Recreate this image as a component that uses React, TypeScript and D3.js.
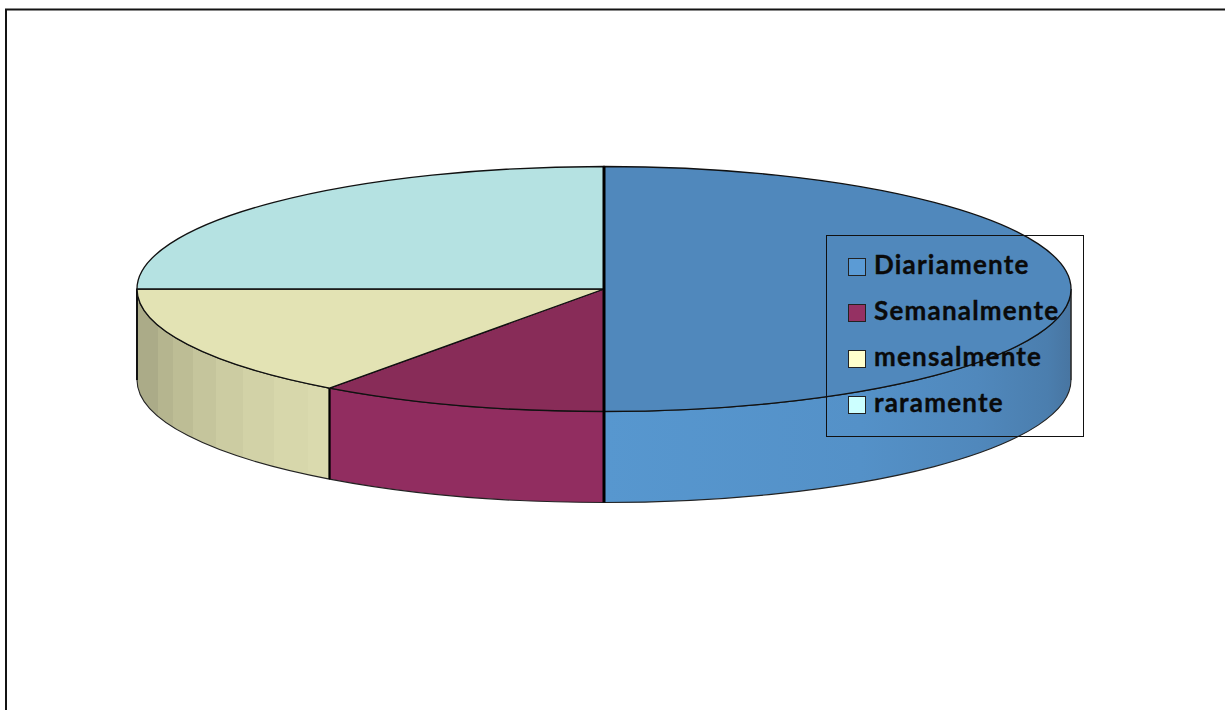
import React from "react";
import * as d3 from "d3";

const categories = ["Diariamente", "Semanalmente", "mensalmente", "raramente"];
const shares = [50, 10, 15, 25];
const topColors = ["#5088bc", "#882c58", "#e3e3b4", "#b5e2e2"];
const swatchColors = ["#5b9bd5", "#953163", "#ffffcc", "#ccffff"];

// Shading of the rim, left to right: [start x offset from the centre as a share of the radius, colour]
const wallBands: [number, string][] = [
  [-1, "#abab88"],
  [-0.955, "#b5b58f"],
  [-0.923, "#bdbd95"],
  [-0.88, "#c5c59c"],
  [-0.83, "#cccca2"],
  [-0.773, "#d2d2a7"],
  [-0.707, "#d7d7ab"],
  [-0.634, "#dadaae"],
];
const wallColors = ["#5797cf", "#912d60"];
const blueWallStops: [number, string][] = [
  [0, "#5797cf"],
  [0.55, "#5491c8"],
  [0.8, "#5088bc"],
  [0.95, "#4b7eae"],
  [1, "#4875a1"],
];

const cx = 604;
const cy = 289;
const rx = 467;
const ry = 122.5;
const depth = 91;

const legendBox = { x: 826.5, y: 235.5, w: 257, h: 201 };
const legendY = d3.scalePoint<string>().domain(categories).range([266.5, 404.5]);

const pieGen = d3
  .pie<number>()
  .sort(null)
  .startAngle(0)
  .endAngle(2 * Math.PI)
  .value((d) => d);
const slices = pieGen(shares);
const arcGen = d3.arc<d3.PieArcDatum<number>>().innerRadius(0).outerRadius(rx);

const px = (a: number) => cx + rx * Math.sin(a);
const py = (a: number) => cy - ry * Math.cos(a);

// Front rim of one slice, clipped to the half of the ellipse facing the viewer.
function wallPath(a0: number, a1: number) {
  const s = Math.max(a0, Math.PI / 2);
  const e = Math.min(a1, (3 * Math.PI) / 2);
  if (e <= s) return null;
  return (
    `M${px(s)},${py(s)}` +
    `A${rx},${ry} 0 0 1 ${px(e)},${py(e)}` +
    `L${px(e)},${py(e) + depth}` +
    `A${rx},${ry} 0 0 0 ${px(s)},${py(s) + depth}Z`
  );
}

export default function App() {
  return (
    <svg
      width={1225}
      height={710}
      style={{ position: "absolute", left: 0, top: 0, background: "#fff" }}
    >
      <defs>
        <linearGradient id="wall-0" gradientUnits="userSpaceOnUse" x1={cx} x2={cx + rx} y1={0} y2={0}>
          {blueWallStops.map(([o, c]) => (
            <stop key={o} offset={o} stopColor={c} />
          ))}
        </linearGradient>
        <linearGradient id="wall-2" gradientUnits="userSpaceOnUse" x1={cx - rx} x2={cx} y1={0} y2={0}>
          {wallBands.flatMap(([o, c], i) => {
            const next = i + 1 < wallBands.length ? wallBands[i + 1][0] : 0;
            return [
              <stop key={`${i}a`} offset={o + 1} stopColor={c} />,
              <stop key={`${i}b`} offset={next + 1} stopColor={c} />,
            ];
          })}
        </linearGradient>
      </defs>

      {/* Outer frame, open past the right and bottom edges */}
      <rect x={6} y={9.5} width={1300} height={800} fill="none" stroke="#141414" strokeWidth={2} />

      {/* Rim */}
      <g>
        {slices.map((s, i) => {
          const d = wallPath(s.startAngle, s.endAngle);
          if (!d) return null;
          const fill = i === 0 || i === 2 ? `url(#wall-${i})` : wallColors[1];
          return <path key={i} d={d} fill={fill} stroke="#222" strokeWidth={1.1} />;
        })}
      </g>

      {/* Rim side and seam edges */}
      <line x1={cx - rx} x2={cx - rx} y1={cy} y2={cy + depth} stroke="#111" strokeWidth={2} />
      <line x1={cx + rx} x2={cx + rx} y1={cy} y2={cy + depth} stroke="#333" strokeWidth={1.2} />
      {slices.slice(1, 2).map((s) => (
        <line
          key="seam"
          x1={px(s.endAngle)}
          x2={px(s.endAngle)}
          y1={py(s.endAngle)}
          y2={py(s.endAngle) + depth}
          stroke="#000"
          strokeWidth={2.2}
        />
      ))}

      {/* Top face */}
      <g transform={`translate(${cx},${cy}) scale(1,${ry / rx})`}>
        {slices.map((s, i) => (
          <path
            key={i}
            d={arcGen(s) as string}
            fill={topColors[i]}
            stroke="#111"
            strokeWidth={1.3}
            style={{ vectorEffect: "non-scaling-stroke" }}
          />
        ))}
      </g>

      {/* Heavy divider through the centre and down the rim */}
      <line x1={cx} x2={cx} y1={cy - ry} y2={cy + ry + depth} stroke="#000" strokeWidth={3} />

      {/* Legend */}
      <rect
        x={legendBox.x}
        y={legendBox.y}
        width={legendBox.w}
        height={legendBox.h}
        fill="none"
        stroke="#111"
        strokeWidth={1}
      />
      {categories.map((c, i) => {
        const y = legendY(c) as number;
        return (
          <g key={c}>
            <rect x={848.5} y={y - 8} width={17} height={17} fill={swatchColors[i]} stroke="#222" strokeWidth={1} />
            <text
              x={874}
              y={y + 7}
              fontFamily="Lato, 'Open Sans', sans-serif"
              fontWeight={700}
              fontSize={26}
              letterSpacing={1.2}
              stroke="#0a0a0a"
              strokeWidth={0.35}
              fill="#0a0a0a"
            >
              {c}
            </text>
          </g>
        );
      })}
    </svg>
  );
}
